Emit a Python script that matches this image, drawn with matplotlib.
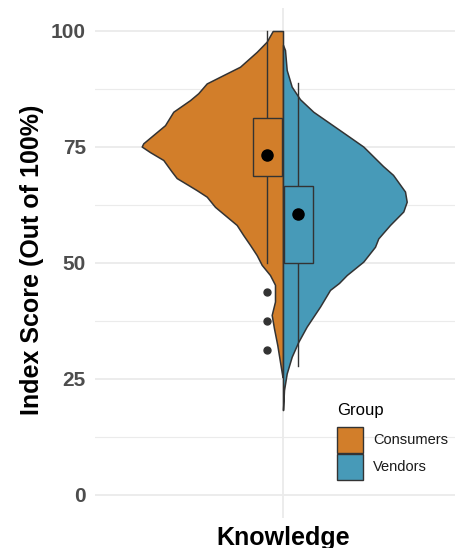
import matplotlib
matplotlib.use('Agg')
import matplotlib.pyplot as plt
from matplotlib.patches import Rectangle
from matplotlib.ticker import MultipleLocator

plt.rcParams['font.family'] = ['Liberation Sans', 'DejaVu Sans']

# ---------------- data ----------------
category = 'Knowledge'
groups = ['Consumers', 'Vendors']
colors = ['#D27E2A', '#479AB8']
legend_title = 'Group'

# violin half-widths (density profile, in axis x-units)
cons_y = [100, 97.7, 95.5, 92.3, 90.5, 88.7, 86.6, 85.1, 82.6, 79.7, 77.6, 75.8, 75.1,
          73.9, 72.2, 69.7, 68.3, 66.8, 65.7, 64.3, 62.1, 60.0, 58.2, 56.0, 53.9, 51.7,
          49.6, 47.4, 45.3, 41.7, 38.8, 35.9, 32.3, 28.7, 25.4]
cons_w = [0.103, 0.163, 0.263, 0.43, 0.597, 0.763, 0.847, 0.93, 1.097, 1.18, 1.297, 1.397, 1.413,
          1.33, 1.197, 1.113, 1.063, 0.947, 0.863, 0.763, 0.68, 0.563, 0.463, 0.397, 0.33, 0.263,
          0.213, 0.13, 0.08, 0.08, 0.113, 0.09, 0.057, 0.03, 0.005]

vend_y = [97.0, 95.9, 91.6, 88.0, 85.3, 82.6, 80.1, 77.6, 75.1, 70.9, 69.0, 65.4, 63.2, 61.1,
          58.2, 55.3, 53.5, 50.3, 47.4, 45.7, 44.2, 40.6, 36.3, 33.0, 29.8, 26.2, 22.6, 18.3]
vend_w = [0.0, 0.02, 0.037, 0.087, 0.17, 0.303, 0.47, 0.637, 0.803, 1.0, 1.10, 1.22, 1.237, 1.203,
          1.07, 0.953, 0.92, 0.803, 0.637, 0.56, 0.47, 0.37, 0.237, 0.153, 0.087, 0.037, 0.01, 0.0]

# box-plot statistics
q1 = [68.75, 50.0]
q3 = [81.25, 66.67]
whisk_lo = [50.0, 27.9]
whisk_hi = [100.0, 88.9]
means = [73.2, 60.6]
cons_outliers = [43.75, 37.5, 31.25]

yticks = [0, 25, 50, 75, 100]
ylabel = 'Index Score (Out of 100%)'

# ---------------- figure ----------------
W, H = 456, 548
fig = plt.figure(figsize=(W / 100, H / 100), dpi=100)


def fx(px):
    return px / W


def fy(py):
    return 1 - py / H


ax_left, ax_right = 95, 456
ax_top, ax_bot = 7.8, 518.2
ax = fig.add_axes([fx(ax_left), fy(ax_bot), (ax_right - ax_left) / W, (ax_bot - ax_top) / H])
ax.set_xlim(-1.88, 1.73)
ax.set_ylim(-5, 105)
for s in ax.spines.values():
    s.set_visible(False)

grid_c = '#EBEBEB'
ax.yaxis.set_major_locator(MultipleLocator(25))
ax.yaxis.set_minor_locator(MultipleLocator(12.5))
ax.set_xticks([0])
ax.set_xticklabels([''])
ax.grid(True, which='major', axis='both', color=grid_c, lw=1.3, zorder=0)
ax.grid(True, which='minor', axis='y', color=grid_c, lw=0.8, zorder=0)
ax.set_axisbelow(True)
ax.tick_params(axis='both', which='both', length=0)
ax.set_yticks(yticks)
ax.set_yticklabels([str(t) for t in yticks], fontsize=15, fontweight='bold', color='#4D4D4D')
ax.tick_params(axis='y', pad=6.5)

edge = '#333333'
# split violins
ax.fill_betweenx(cons_y, [-w for w in cons_w], 0, facecolor=colors[0], edgecolor=edge, lw=1.1,
                 zorder=2, joinstyle='round')
ax.fill_betweenx(vend_y, 0, vend_w, facecolor=colors[1], edgecolor=edge, lw=1.1, zorder=2,
                 joinstyle='round')

# boxes
offsets = [-0.155, 0.155]
bw = 0.29
for i in range(2):
    xc = offsets[i]
    ax.plot([xc, xc], [q3[i], whisk_hi[i]], color=edge, lw=1.0, zorder=3)
    ax.plot([xc, xc], [whisk_lo[i], q1[i]], color=edge, lw=1.0, zorder=3)
    ax.add_patch(Rectangle((xc - bw / 2, q1[i]), bw, q3[i] - q1[i], facecolor=colors[i],
                           edgecolor=edge, lw=1.0, zorder=3))
    ax.plot([xc], [means[i]], 'o', color='black', ms=8, zorder=5)

ax.plot([offsets[0]] * len(cons_outliers), cons_outliers, 'o', color=edge, ms=5, zorder=4, lw=0)

# labels
fig.text(fx(32), fy(260), ylabel, rotation=90, ha='center', va='center',
         fontsize=18, fontweight='bold', color='black')
fig.text(fx(283), fy(545), category, ha='center', va='baseline',
         fontsize=18, fontweight='bold', color='black')

# legend (drawn in figure pixels, inside the panel, no frame)
fig.text(fx(337), fy(415), legend_title, ha='left', va='baseline', fontsize=12, color='black')
key = 26
key_tops = [427, 454]
for i in range(2):
    fig.add_artist(Rectangle((fx(337), fy(key_tops[i] + key)), key / W, key / H,
                             transform=fig.transFigure, facecolor=colors[i], edgecolor=edge,
                             lw=1.0, zorder=6))
    fig.text(fx(373), fy(key_tops[i] + key / 2), groups[i], ha='left', va='center',
             fontsize=10.5, color='#1A1A1A')

fig.savefig('out.png', dpi=100)
